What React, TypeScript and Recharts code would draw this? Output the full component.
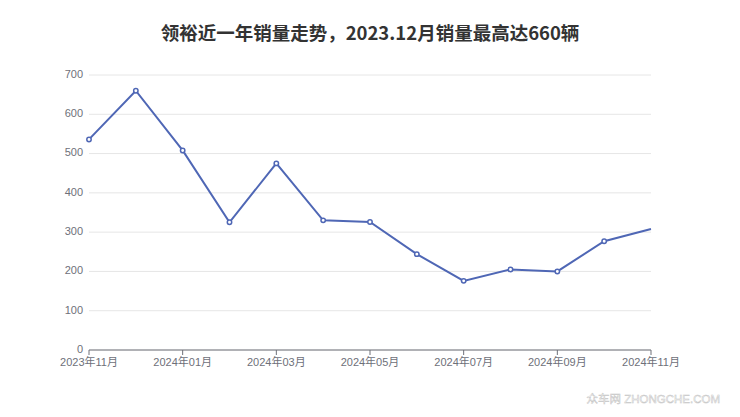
import React from "react";
import { LineChart, Line, XAxis, YAxis, CartesianGrid } from "recharts";

const months = [
  "2023年11月", "2023年12月", "2024年01月", "2024年02月", "2024年03月",
  "2024年04月", "2024年05月", "2024年06月", "2024年07月", "2024年08月",
  "2024年09月", "2024年10月", "2024年11月",
];
const sales = [536, 660, 508, 325, 475, 330, 326, 244, 176, 205, 200, 277, 308];
const yTicks = [0, 100, 200, 300, 400, 500, 600, 700];

const data = months.map((m, i) => ({ month: m, sales: sales[i] }));

const font = "'Liberation Sans', 'Noto Sans CJK SC', sans-serif";
const titleFont = "'Noto Sans CJK SC', sans-serif";
const blue = "#4f67b5";

const Dot = (props: any) => {
  const { cx, cy, index } = props;
  if (index === sales.length - 1) return <g key={index} />;
  return <circle key={index} cx={cx} cy={cy} r={2.2} fill="#fff" stroke={blue} strokeWidth={1.5} />;
};

export default function App() {
  return (
    <div style={{ position: "absolute", left: 0, top: 0, width: 740, height: 417, background: "#fff", fontFamily: font }}>
      <div style={{ position: "absolute", top: 19, width: 740, textAlign: "center", fontSize: 18.5, fontWeight: "bold", color: "#333", fontFamily: titleFont }}>
        领裕近一年销量走势，2023.12月销量最高达660辆
      </div>
      <LineChart width={740} height={417} data={data} margin={{ top: 75, right: 89, left: 0, bottom: 0 }}>
        <CartesianGrid vertical={false} stroke="#e6e6e6" />
        <XAxis
          dataKey="month"
          interval={1}
          height={67}
          stroke="#6e7079"
          tickSize={5}
          tickMargin={3}
          tick={{ fill: "#6e7079", fontSize: 11, fontFamily: font }}
        />
        <YAxis
          width={89}
          domain={[0, 700]}
          ticks={yTicks}
          axisLine={false}
          tickLine={false}
          tickMargin={0}
          tick={{ fill: "#6e7079", fontSize: 11, fontFamily: font, dy: -1 }}
        />
        <Line
          type="linear"
          dataKey="sales"
          stroke={blue}
          strokeWidth={2}
          dot={Dot}
          activeDot={false}
          isAnimationActive={false}
        />
      </LineChart>
      <div style={{ position: "absolute", right: 20, top: 390, fontSize: 11.5, whiteSpace: "nowrap", color: "#fff", WebkitTextStroke: "0.5px #c4c4c4", fontFamily: "'Liberation Sans', 'Noto Sans CJK SC', sans-serif" }}>
        众车网 ZHONGCHE.COM
      </div>
    </div>
  );
}
